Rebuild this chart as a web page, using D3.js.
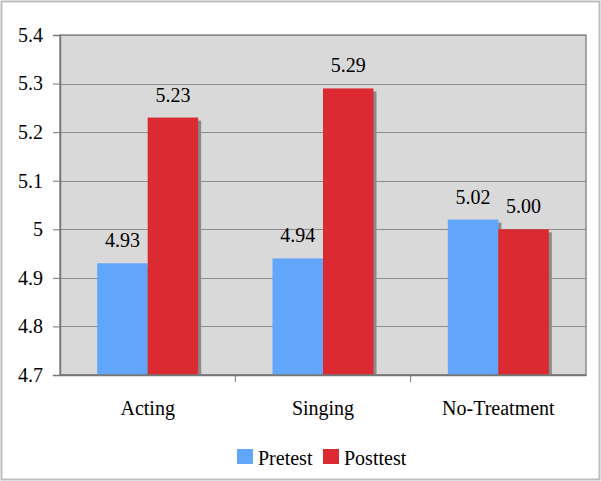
<!DOCTYPE html>
<html><head><meta charset="utf-8">
<script src="https://cdn.jsdelivr.net/npm/d3@7"></script>
<style>body{margin:0;background:#fff}svg{display:block}svg text{font-family:"Liberation Serif","Times New Roman",serif !important}</style>
</head><body><svg id="c" width="601" height="481" font-family="Liberation Serif"></svg>
<script>
const categories = ["Acting", "Singing", "No-Treatment"];
const seriesNames = ["Pretest", "Posttest"];
const pretest = [4.93, 4.94, 5.02];
const posttest = [5.23, 5.29, 5.00];
const yTicks = [4.7, 4.8, 4.9, 5.0, 5.1, 5.2, 5.3, 5.4];
const colors = ["#61a6fb", "#db2a31"];

const FONT = "Liberation Serif";
const svg = d3.select("#c");
const W = 601, H = 481;
const m = {left: 60, top: 35, right: 586, bottom: 375};

svg.append("rect").attr("x", 1.5).attr("y", 1.5).attr("width", W - 3).attr("height", H - 3)
  .attr("fill", "#fff").attr("stroke", "#bdbdbd").attr("stroke-width", 2);

const x = d3.scaleBand().domain(categories).range([m.left, m.right]).paddingInner(0).paddingOuter(0);
const y = d3.scaleLinear().domain([4.7, 5.4]).range([m.bottom, m.top]);

svg.append("rect").attr("x", m.left).attr("y", m.top).attr("width", m.right - m.left).attr("height", m.bottom - m.top)
  .attr("fill", "#d9d9d9").attr("stroke", "#8c8c8c").attr("stroke-width", 1.5);

// gridlines
svg.append("g").selectAll("line").data(yTicks.slice(1)).join("line")
  .attr("x1", m.left).attr("x2", m.right)
  .attr("y1", d => Math.round(y(d)) + 0.5).attr("y2", d => Math.round(y(d)) + 0.5)
  .attr("stroke", "#8c8c8c").attr("stroke-width", 1);

// y axis
const yAxis = d3.axisLeft(y).tickValues(yTicks).tickSize(7).tickPadding(10)
  .tickFormat(d => d === 5 ? "5" : d3.format(".1f")(d));
const gy = svg.append("g").attr("transform", `translate(${m.left},0)`).call(yAxis)
  .attr("font-family", FONT).attr("font-size", 20);
gy.select(".domain").attr("stroke", "#777").attr("stroke-width", 1.5);
gy.selectAll(".tick line").attr("stroke", "#777");
gy.selectAll(".tick text").attr("fill", "#000");

// x axis
const xAxis = d3.axisBottom(x).tickSize(0).tickPadding(26);
const gx = svg.append("g").attr("transform", `translate(0,${m.bottom})`).call(xAxis)
  .attr("font-family", FONT).attr("font-size", 20);
gx.select(".domain").attr("stroke", "#777").attr("stroke-width", 1.5);
gx.selectAll(".tick text").attr("fill", "#000");
// category boundary ticks
svg.append("g").selectAll("line").data(categories.slice(1)).join("line")
  .attr("x1", d => x(d)).attr("x2", d => x(d))
  .attr("y1", m.bottom).attr("y2", m.bottom + 7)
  .attr("stroke", "#777");

const bw = 50.5;
const inner = d3.scaleBand().domain(seriesNames).range([-bw, bw]);
const data = [];
categories.forEach((c, i) => {
  data.push({c, s: "Pretest", v: pretest[i], col: colors[0]});
  data.push({c, s: "Posttest", v: posttest[i], col: colors[1]});
});
const cx = d => x(d.c) + x.bandwidth() / 2 + inner(d.s);

const gb = svg.append("g").attr("font-family", FONT);
// shadows
gb.selectAll("rect.sh").data(data).join("rect").attr("class", "sh")
  .attr("x", d => cx(d) + 3).attr("y", d => y(d.v) + 3)
  .attr("width", inner.bandwidth()).attr("height", d => m.bottom - y(d.v) - 3)
  .attr("fill", "#8a8a8a");
gb.selectAll("rect.bar").data(data).join("rect").attr("class", "bar")
  .attr("x", d => cx(d)).attr("y", d => y(d.v))
  .attr("width", inner.bandwidth()).attr("height", d => m.bottom - y(d.v))
  .attr("fill", d => d.col);

// value labels
gb.selectAll("text.val").data(data).join("text").attr("class", "val")
  .attr("x", d => cx(d) + inner.bandwidth() / 2).attr("y", d => y(d.v) - 16)
  .attr("text-anchor", "middle").attr("font-size", 20).attr("fill", "#000")
  .text(d => d3.format(".2f")(d.v));

// redraw x axis line on top
svg.append("line").attr("x1", m.left).attr("x2", m.right).attr("y1", m.bottom).attr("y2", m.bottom)
  .attr("stroke", "#777").attr("stroke-width", 1.5);

// legend
const lg = svg.append("g").attr("font-family", FONT);
const legX = [237, 323];
seriesNames.forEach((s, i) => {
  lg.append("rect").attr("x", legX[i]).attr("y", 449).attr("width", 16).attr("height", 15).attr("fill", colors[i]);
  lg.append("text").attr("x", legX[i] + 21).attr("y", 465).attr("font-size", 20).attr("fill", "#000").text(s);
});
</script></body></html>
